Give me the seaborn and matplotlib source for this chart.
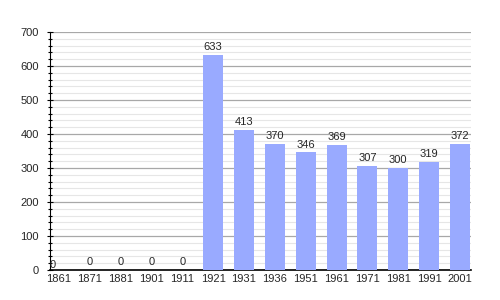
import matplotlib
matplotlib.use("Agg")
import matplotlib.pyplot as plt
import seaborn as sns
import pandas as pd
from matplotlib.ticker import MultipleLocator

years = ["1861", "1871", "1881", "1901", "1911", "1921", "1931", "1936",
         "1951", "1961", "1971", "1981", "1991", "2001"]
population = [0, 0, 0, 0, 0, 633, 413, 370, 346, 369, 307, 300, 319, 372]

sns.set_style("white")
plt.rcParams['font.family'] = ['Liberation Sans', 'DejaVu Sans']

df = pd.DataFrame({"year": years, "pop": population})

fig = plt.figure(figsize=(5, 3), dpi=100)
ax = fig.add_axes([0.1, 0.1, 0.842, 0.7933])

sns.barplot(data=df, x="year", y="pop", color="#99aaff", saturation=1,
            width=0.65, ax=ax, zorder=3, linewidth=0, edgecolor="none")

ax.set_xlim(-0.29, 13.36)
ax.set_ylim(0, 700)
ax.yaxis.set_major_locator(MultipleLocator(100))
ax.yaxis.set_minor_locator(MultipleLocator(20))
ax.grid(which="major", axis="y", color="#a8a8a8", linewidth=0.9, zorder=0)
ax.grid(which="minor", axis="y", color="#e6e6e6", linewidth=0.8, zorder=0)
ax.set_axisbelow(True)

for s in ["top", "right"]:
    ax.spines[s].set_visible(False)
ax.spines["left"].set_color("black")
ax.spines["left"].set_linewidth(0.8)
ax.spines["bottom"].set_color("black")
ax.spines["bottom"].set_linewidth(1.2)

ax.tick_params(axis="y", which="major", length=4, width=0.8, direction="inout",
               labelsize=8, pad=6, left=True, color="black")
ax.tick_params(axis="y", which="minor", length=3, width=0.8, direction="inout",
               left=True, color="black")
ax.tick_params(axis="x", length=0, labelsize=8, pad=3)
ax.set_xlabel("")
ax.set_ylabel("")

for i, v in enumerate(population):
    if i == 0:
        ax.annotate(str(v), (i - 0.2, v), xytext=(0, 0), textcoords="offset points",
                    ha="center", va="bottom", fontsize=8)
    else:
        ax.annotate(str(v), (i, v), xytext=(0, 2), textcoords="offset points",
                    ha="center", va="bottom", fontsize=8)

fig.savefig("out.png", dpi=100)
